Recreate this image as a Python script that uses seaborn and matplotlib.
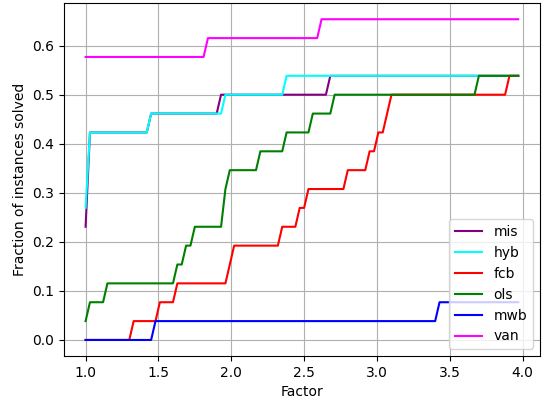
import numpy as np
import pandas as pd
import matplotlib
matplotlib.use("Agg")
import matplotlib.pyplot as plt
import seaborn as sns

# Performance ratios of the solved instances for each solver (26 instances in total;
# instances that a solver did not solve are simply absent from its list).
n_instances = 26
solvers = ["mis", "hyb", "fcb", "ols", "mwb", "van"]
colors = ["purple", "cyan", "red", "green", "blue", "magenta"]

ratios_mis = [1.0] * 6 + [1.015] * 5 + [1.44, 1.92, 2.66]
ratios_hyb = [1.0] * 7 + [1.015] * 4 + [1.44, 1.95, 2.37]
ratios_fcb = [1.32, 1.50, 1.62, 1.98, 2.01, 2.34, 2.46, 2.52, 2.79, 2.94, 3.00,
              3.05, 3.08, 3.90]
ratios_ols = [1.0, 1.02, 1.14, 1.62, 1.68, 1.74, 1.95, 1.95, 1.98, 2.19, 2.37,
              2.55, 2.70, 3.69]
ratios_mwb = [1.46, 3.42]
ratios_van = [1.0] * 15 + [1.82, 2.61]

all_ratios = [ratios_mis, ratios_hyb, ratios_fcb, ratios_ols, ratios_mwb, ratios_van]

# Factor grid on which the profiles are evaluated
tau = np.arange(1.0, 4.0, 0.03)

fig, ax = plt.subplots(figsize=(5.42, 4.0), dpi=100)
fig.subplots_adjust(left=0.118, right=0.996, top=0.992, bottom=0.11)

for name, color, r in zip(solvers, colors, all_ratios):
    r = np.asarray(r)
    profile = np.array([(r <= t + 1e-9).sum() for t in tau]) / n_instances
    df = pd.DataFrame({"Factor": tau, "frac": profile})
    sns.lineplot(data=df, x="Factor", y="frac", color=color, label=name,
                 estimator=None, linewidth=1.5, ax=ax)

ax.grid(True, color="#b0b0b0", linewidth=0.8)
ax.set_xlabel("Factor")
ax.set_ylabel("Fraction of instances solved")
ax.legend(loc="lower right")

fig.savefig("out.png", dpi=100)
